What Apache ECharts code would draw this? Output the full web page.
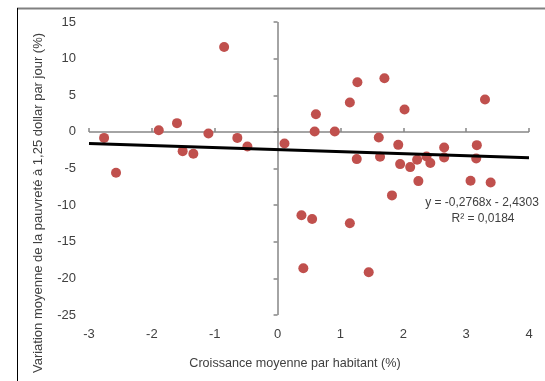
<!DOCTYPE html>
<html>
<head>
<meta charset="utf-8">
<script src="https://cdn.jsdelivr.net/npm/echarts@6/dist/echarts.min.js"></script>
<style>
  html, body { margin: 0; padding: 0; background: #fff; }
  #chart { width: 545px; height: 381px; }
</style>
</head>
<body>
<div id="chart"></div>
<script>
// nuage de points : croissance (x) et variation de la pauvreté (y)
var growth = [-2.76, -2.57, -1.89, -1.60, -1.51, -1.34, -1.10, -0.85, -0.64, -0.48,
  0.11, 0.61, 0.59, 0.91, 1.15, 1.27, 1.26, 1.70, 1.61, 1.63,
  2.02, 1.92, 1.95, 2.11, 2.22, 2.24, 2.37, 2.43, 2.65, 2.65,
  3.07, 3.17, 3.16, 3.30, 3.39, 1.82, 0.38, 0.55, 1.15, 0.41, 1.45];
var poverty = [-0.82, -5.59, 0.23, 1.19, -2.63, -2.99, -0.22, 11.58, -0.82, -1.99,
  -1.58, 2.41, 0.05, 0.05, 4.0, 6.77, -3.72, 7.32, -0.77, -3.40,
  3.05, -1.77, -4.40, -4.81, -3.81, -6.72, -3.36, -4.26, -2.13, -3.50,
  -6.67, -1.81, -3.63, 4.41, -6.90, -8.67, -11.39, -11.89, -12.48, -18.61, -19.16];

// droite de tendance (Excel) : y = -0,2768x - 2,4303
var slope = -0.2768;
var intercept = -2.4303;
var trendX = [-3, 4];
var trendLabel = ['y = -0,2768x - 2,4303', 'R² = 0,0184'];

var xRange = [-3, 4];
var yRange = [-25, 15];
var xTitle = 'Croissance moyenne par habitant (%)';
var yTitle = 'Variation moyenne de la pauvreté à 1,25 dollar par jour (%)';

var font = '"Liberation Sans", Arial, sans-serif';
var textColor = '#404040';
var axisGray = '#868686';

var points = growth.map(function (x, i) { return [x, poverty[i]]; });
var trend = trendX.map(function (x) { return [x, slope * x + intercept]; });

var chart = echarts.init(document.getElementById('chart'));

chart.setOption({
  animation: false,
  grid: {left: 89, right: 16, top: 22, bottom: 66},
  xAxis: [
    {
      // étiquettes en bas
      type: 'value', min: xRange[0], max: xRange[1], interval: 1,
      position: 'bottom',
      axisLine: {show: false, onZero: false},
      axisTick: {show: false},
      splitLine: {show: false},
      axisLabel: {color: textColor, fontFamily: font, fontSize: 13, margin: 13}
    },
    {
      // graduations sur y = 0
      type: 'value', min: xRange[0], max: xRange[1], interval: 1,
      axisLine: {show: false, onZero: true, onZeroAxisIndex: 0},
      axisTick: {show: true, length: 4, lineStyle: {color: axisGray, width: 1.5}},
      splitLine: {show: false},
      axisLabel: {show: false}
    }
  ],
  yAxis: [
    {
      type: 'value', min: yRange[0], max: yRange[1], interval: 5,
      axisLine: {show: false, onZero: false},
      axisTick: {show: false},
      splitLine: {show: false},
      axisLabel: {color: textColor, fontFamily: font, fontSize: 13, margin: 13}
    },
    {
      type: 'value', min: yRange[0], max: yRange[1], interval: 5,
      position: 'left',
      axisLine: {show: false, onZero: true, onZeroAxisIndex: 0},
      axisTick: {show: true, length: 4, lineStyle: {color: axisGray, width: 1.5}},
      splitLine: {show: false},
      axisLabel: {show: false}
    }
  ],
  series: [
    {
      type: 'scatter',
      data: points,
      symbolSize: 10,
      itemStyle: {color: '#C0504D', opacity: 1},
      z: 3,
      // axes qui se croisent en (0, 0)
      markLine: {
        silent: true,
        symbol: 'none',
        label: {show: false},
        lineStyle: {color: axisGray, width: 1.5, type: 'solid'},
        z: 1,
        data: [
          [{coord: [0, yRange[0]]}, {coord: [0, yRange[1]]}],
          [{coord: [xRange[0], 0]}, {coord: [xRange[1], 0]}]
        ]
      }
    },
    {
      type: 'line',
      data: trend,
      showSymbol: false,
      lineStyle: {color: '#000', width: 3},
      z: 4
    }
  ],
  graphic: [
    {type: 'line', shape: {x1: 17, y1: 8.5, x2: 545, y2: 8.5}, style: {stroke: '#808080', lineWidth: 2}},
    {type: 'line', shape: {x1: 17.5, y1: 8, x2: 17.5, y2: 381}, style: {stroke: '#000', lineWidth: 1}},
    {
      type: 'text', x: 295, y: 364,
      style: {text: xTitle, fill: textColor, font: '12.6px ' + font, textAlign: 'center', textVerticalAlign: 'middle'}
    },
    {
      type: 'text', x: 38, y: 203, rotation: Math.PI / 2,
      style: {text: yTitle, fill: textColor, font: '13px ' + font, textAlign: 'center', textVerticalAlign: 'middle'}
    },
    {
      type: 'text', x: 482, y: 203,
      style: {text: trendLabel[0], fill: textColor, font: '12px ' + font, textAlign: 'center', textVerticalAlign: 'middle'}
    },
    {
      type: 'text', x: 483, y: 219,
      style: {text: trendLabel[1], fill: textColor, font: '12px ' + font, textAlign: 'center', textVerticalAlign: 'middle'}
    }
  ]
});
</script>
</body>
</html>
